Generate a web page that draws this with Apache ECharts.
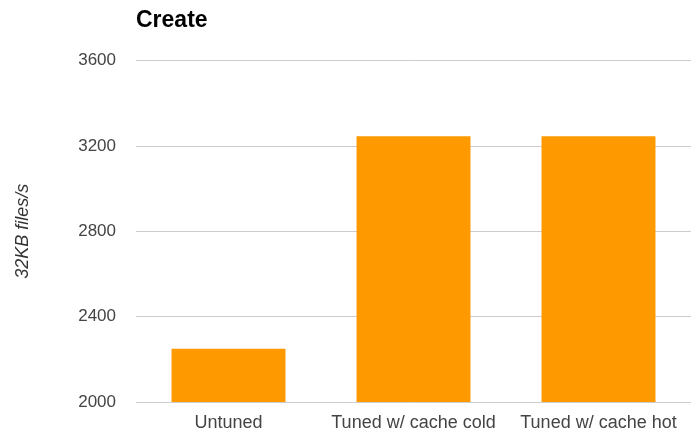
<!DOCTYPE html>
<html>
<head>
<meta charset="utf-8">
<script src="https://cdn.jsdelivr.net/npm/echarts@6/dist/echarts.min.js"></script>
<style>
  html, body { margin: 0; padding: 0; background: #fff; }
  #chart { width: 691px; height: 432px; }
</style>
</head>
<body>
<div id="chart"></div>
<script>
// Create throughput for 32KB files
const categories = ['Untuned', 'Tuned w/ cache cold', 'Tuned w/ cache hot'];
const createRates = [2250, 3245, 3245];
const yTicks = { min: 2000, max: 3600, step: 400 };

const chart = echarts.init(document.getElementById('chart'), null, { renderer: 'canvas' });
chart.setOption({
  animation: false,
  title: {
    text: 'Create',
    left: 131,
    top: 4,
    textStyle: { fontFamily: 'Liberation Sans', fontSize: 23, fontWeight: 'bold', color: '#000' }
  },
  grid: { left: 136, right: 0, top: 60.5, bottom: 28.7 },
  xAxis: {
    type: 'category',
    data: categories,
    axisLine: { show: false },
    axisTick: { show: false },
    axisLabel: {
      interval: 0,
      margin: 12,
      fontFamily: 'Liberation Sans',
      fontSize: 18,
      color: '#444'
    }
  },
  yAxis: {
    type: 'value',
    min: yTicks.min,
    max: yTicks.max,
    interval: yTicks.step,
    name: '32KB files/s',
    nameLocation: 'middle',
    nameGap: 104,
    nameTextStyle: { fontFamily: 'Liberation Sans', fontSize: 18, fontStyle: 'italic', color: '#333' },
    axisLine: { show: false },
    axisTick: { show: false },
    axisLabel: {
      margin: 20,
      fontFamily: 'Liberation Sans',
      fontSize: 17,
      color: '#444',
      formatter: (v) => String(v)
    },
    splitLine: { lineStyle: { color: '#ccc', width: 1 } }
  },
  series: [{
    type: 'bar',
    data: createRates,
    barWidth: '61.6%',
    itemStyle: { color: '#ff9900' }
  }]
});
</script>
</body>
</html>
